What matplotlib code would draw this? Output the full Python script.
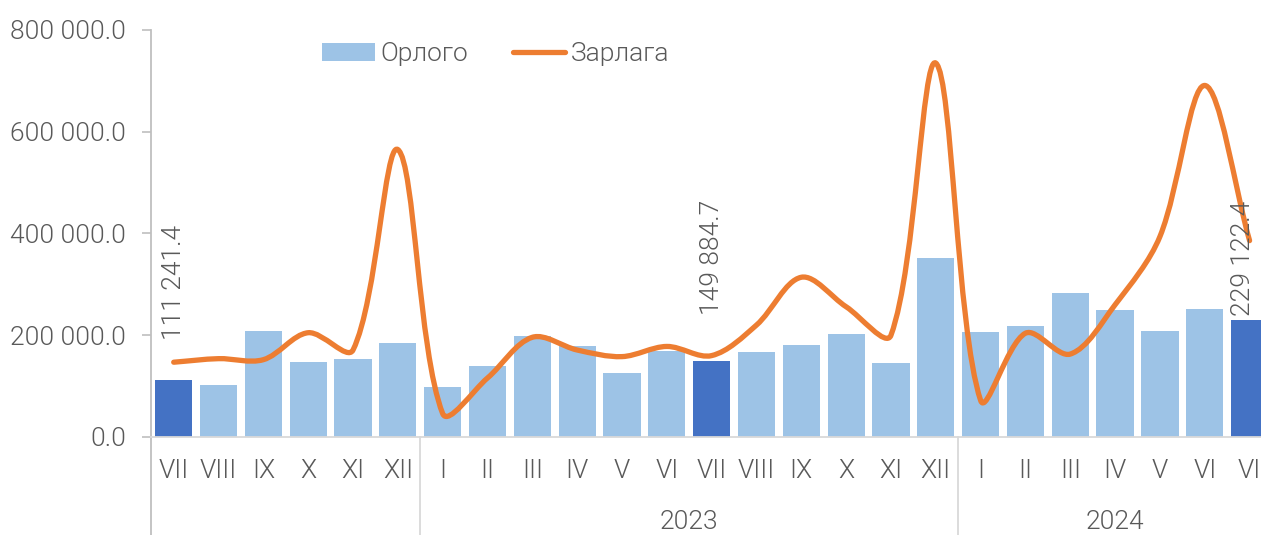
import matplotlib
matplotlib.use('Agg')
import matplotlib.pyplot as plt
from matplotlib.path import Path
from matplotlib.patches import PathPatch, Patch
from matplotlib.lines import Line2D
from matplotlib.ticker import FuncFormatter

# months: VII 2022 .. VII 2024 (last label is "VI" on the original)
months = ['VII', 'VIII', 'IX', 'X', 'XI', 'XII',
          'I', 'II', 'III', 'IV', 'V', 'VI', 'VII', 'VIII', 'IX', 'X', 'XI', 'XII',
          'I', 'II', 'III', 'IV', 'V', 'VI', 'VI']
years = ['', '2023', '2024']
year_sizes = [6, 12, 7]

# Орлого (revenue), bars
orlogo = [111241.4, 102000, 208000, 148000, 153000, 184000,
          98000, 139000, 198000, 178000, 126000, 170000, 149884.7, 167000, 181000, 202000, 145000, 351000,
          206000, 218000, 284000, 250000, 208000, 251000, 229122.4]
# Зарлага (expenditure), line
zarlaga = [147000, 154000, 152000, 205000, 171000, 565000,
           46000, 116000, 196000, 171000, 158000, 178000, 160000, 220000, 314000, 256000, 200000, 735000,
           72000, 204000, 163000, 260000, 394000, 691000, 386000]
highlight = [0, 12, 24]  # bars with labels / dark colour

light_blue = '#9DC3E6'
dark_blue = '#4472C4'
orange = '#ED7D31'
text_gray = '#595959'

plt.rcParams['font.family'] = ['Roboto', 'DejaVu Sans']
plt.rcParams['font.weight'] = 300
fs = 19

fig = plt.figure(figsize=(12.61, 5.35), dpi=100)
ax = fig.add_axes([151.3 / 1261, 1 - 437 / 535, (1261 - 151.3) / 1261, 407 / 535])

x = list(range(len(months)))
colors = [dark_blue if i in highlight else light_blue for i in x]
ax.bar(x, orlogo, width=0.83, color=colors, zorder=2)

# smoothed line like excel: cubic bezier, control arms scaled by
# neighbouring segment lengths (measured in pixels)
px_x = 44.85          # pixels per category
px_y = 407 / 800000   # pixels per unit
n = len(x)


def seg_len(i, j):
    return (((x[j] - x[i]) * px_x) ** 2 + ((zarlaga[j] - zarlaga[i]) * px_y) ** 2) ** 0.5


verts = [(x[0], zarlaga[0])]
codes = [Path.MOVETO]
for i in range(n - 1):
    a, b = max(i - 1, 0), min(i + 2, n - 1)
    d0, d1, d2 = seg_len(a, i), seg_len(i, i + 1), seg_len(i + 1, b)
    f1 = d1 / (d0 + d1) / 3
    f2 = d1 / (d1 + d2) / 3
    c1 = (x[i] + (x[i + 1] - x[a]) * f1, zarlaga[i] + (zarlaga[i + 1] - zarlaga[a]) * f1)
    c2 = (x[i + 1] - (x[b] - x[i]) * f2, zarlaga[i + 1] - (zarlaga[b] - zarlaga[i]) * f2)
    verts += [c1, c2, (x[i + 1], zarlaga[i + 1])]
    codes += [Path.CURVE4] * 3
ax.add_patch(PathPatch(Path(verts, codes), facecolor='none', edgecolor=orange,
                       lw=3.8, capstyle='round', joinstyle='round', zorder=3))

# value labels
label_off = {0: 40, 12: 46, 24: 4}
label_dx = {0: 0, 12: 0, 24: -0.15}
for i in highlight:
    txt = f'{orlogo[i]:,.1f}'.replace(',', ' ')
    ax.annotate(txt, (x[i] + label_dx[i], orlogo[i]), xytext=(0, label_off[i]),
                textcoords='offset pixels', rotation=90, ha='center', va='bottom',
                fontsize=fs, color=text_gray, zorder=4, annotation_clip=False)

ax.set_ylim(0, 800000)
ax.set_xlim(-0.5, 24.5 - 11 / px_x)
ax.set_yticks([0, 200000, 400000, 600000, 800000])
ax.yaxis.set_major_formatter(FuncFormatter(lambda v, p: f'{v:,.1f}'.replace(',', ' ')))
ax.tick_params(axis='y', length=6.3, width=1.2, color='#bfbfbf', pad=12,
               labelsize=fs, labelcolor=text_gray)
ax.set_xticks(x)
ax.set_xticklabels(months)
ax.tick_params(axis='x', length=0, pad=16, labelsize=fs, labelcolor=text_gray)

for s in ['top', 'right', 'left']:
    ax.spines[s].set_visible(False)
ax.spines['bottom'].set_color('#d9d9d9')
ax.spines['bottom'].set_linewidth(1.3)

# vertical axis line and group separators down through the labels
tr = ax.get_xaxis_transform()
below = -98 / 407
ax.plot([-0.5, -0.5], [1, below], transform=tr, color='#bfbfbf', lw=1.3, clip_on=False)
start = 0
for name, size in zip(years, year_sizes):
    end = start + size
    if end < n:
        ax.plot([end - 0.5, end - 0.5], [0, below], transform=tr, color='#d9d9d9',
                lw=1.3, clip_on=False)
    if name:
        ax.text((start + end - 1) / 2, -85 / 407, name, transform=tr, ha='center',
                va='center', fontsize=fs, color=text_gray)
    start = end

handles = [Patch(facecolor=light_blue, edgecolor='none'),
           Line2D([0], [0], color=orange, lw=3.8, solid_capstyle='round')]
leg = fig.legend(handles, ['Орлого', 'Зарлага'], loc='center left',
                 bbox_to_anchor=(322 / 1261, 1 - 54 / 535), ncol=2, frameon=False,
                 fontsize=fs, handlelength=2.0, handletextpad=0.2, columnspacing=1.7,
                 borderaxespad=0, borderpad=0)
for t in leg.get_texts():
    t.set_color(text_gray)

fig.savefig('out.png', dpi=100)
